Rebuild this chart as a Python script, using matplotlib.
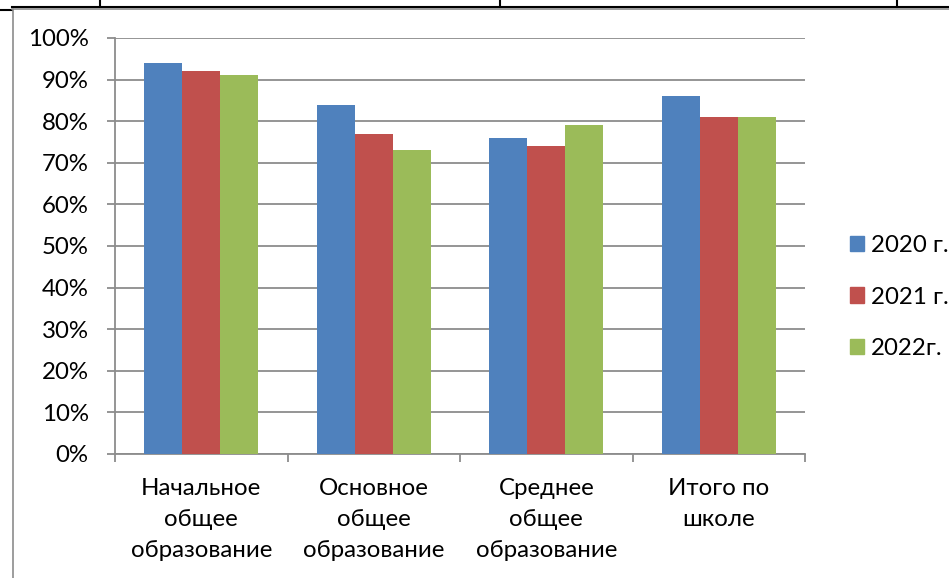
import numpy as np
import matplotlib.pyplot as plt
from matplotlib.lines import Line2D
from matplotlib.patches import Patch

categories = ["Начальное\nобщее\nобразование", "Основное\nобщее\nобразование",
              "Среднее\nобщее\nобразование", "Итого по\nшколе"]
series_names = ["2020 г.", "2021 г.", "2022г."]
v2020 = [94, 84, 76, 86]
v2021 = [92, 77, 74, 81]
v2022 = [91, 73, 79, 81]
colors = ["#4F81BD", "#C0504D", "#9BBB59"]
yticks = [0, 10, 20, 30, 40, 50, 60, 70, 80, 90, 100]

plt.rcParams['font.family'] = ['Lato', 'DejaVu Sans']
W, H = 949, 578
FS = 17.3
fig = plt.figure(figsize=(W / 100, H / 100), dpi=100)

def px(x0, y0, x1, y1, color, lw):
    # line in pixel coords (origin top-left)
    fig.add_artist(Line2D([x0 / W, x1 / W], [1 - y0 / H, 1 - y1 / H],
                          transform=fig.transFigure, color=color, lw=lw))

# table borders around the chart
px(12, 7, W, 7, "black", 1.5)
px(0, 9.5, 12, 9.5, "black", 1.5)
for x in [100, 500, 897]:
    px(x, 0, x, 7, "black", 1.5)
px(12, 9, W, 9, "#8c8c8c", 1.2)
px(12.5, 9, 12.5, H, "#8c8c8c", 1.2)

ax = fig.add_axes([115 / W, 124 / H, 690 / W, 416 / H])
x = np.arange(len(categories))
bw = 0.22
for i, (vals, name) in enumerate(zip([v2020, v2021, v2022], series_names)):
    ax.bar(x + (i - 1) * bw, vals, width=bw, color=colors[i], label=name, zorder=3)

ax.set_xlim(-0.5, len(categories) - 0.5)
ax.set_ylim(0, 100)
ax.set_yticks(yticks)
ax.set_yticklabels([f"{t}%" for t in yticks], fontsize=FS)
ax.yaxis.grid(True, color="#8c8c8c", lw=1.3, zorder=0)
ax.set_axisbelow(True)

ax.set_xticks(np.arange(len(categories) + 1) - 0.5)
ax.set_xticklabels([])
ax.set_xticks(x, minor=True)
ax.set_xticklabels(categories, minor=True, fontsize=FS, linespacing=1.6)
ax.tick_params(axis="x", which="major", length=6, color="#8c8c8c", width=1.3)
ax.tick_params(axis="x", which="minor", length=0, pad=17)
ax.tick_params(axis="y", length=6, color="#8c8c8c", width=1.3, pad=13)

for s in ["top", "right"]:
    ax.spines[s].set_visible(False)
for s in ["left", "bottom"]:
    ax.spines[s].set_color("#8c8c8c")
    ax.spines[s].set_linewidth(1.3)

handles = [Patch(color=c) for c in colors]
fig.legend(handles, series_names, loc="center left", bbox_to_anchor=(828 / W, 1 - 297 / H),
           frameon=False, fontsize=FS, handlelength=0.6, handleheight=0.6,
           handletextpad=0.3, labelspacing=1.27)

fig.savefig("out.png", dpi=100)
